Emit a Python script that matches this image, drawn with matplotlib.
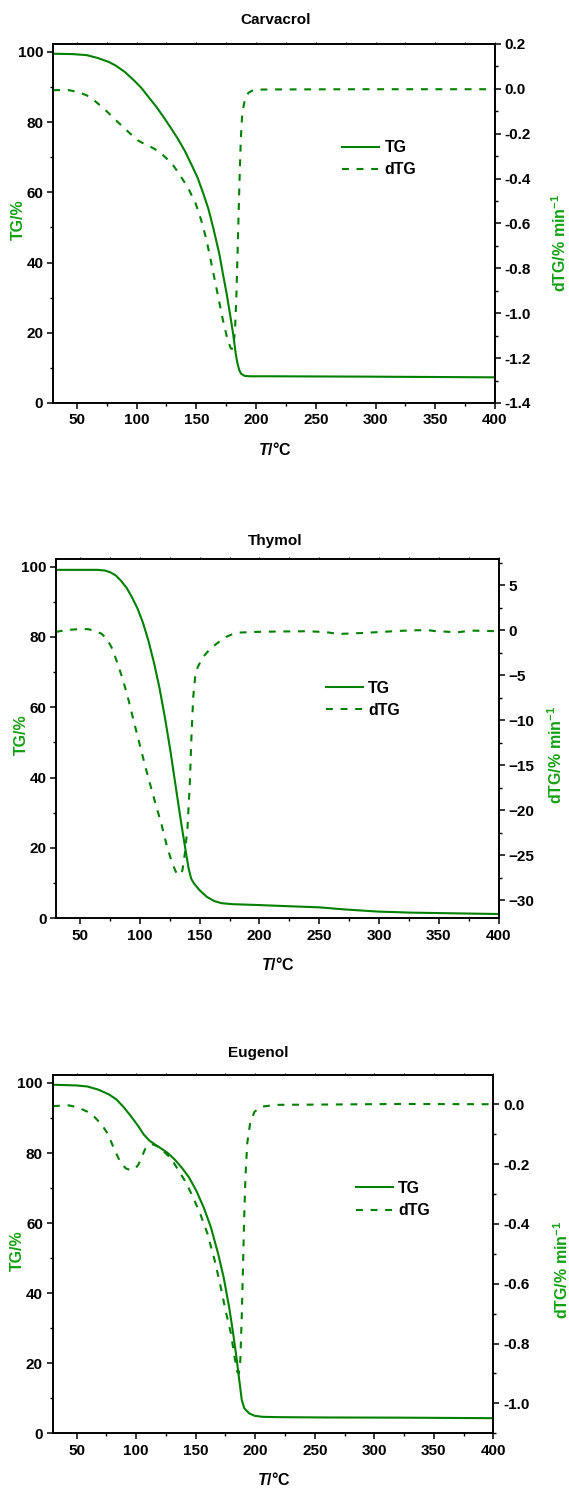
import matplotlib
matplotlib.use("Agg")
import matplotlib.pyplot as plt
from matplotlib.ticker import MultipleLocator, FormatStrFormatter

plt.rcParams['font.family'] = ['Liberation Sans', 'DejaVu Sans']
plt.rcParams['font.weight'] = 'bold'
plt.rcParams['mathtext.fontset'] = 'custom'
plt.rcParams['mathtext.rm'] = 'Liberation Sans:bold'
plt.rcParams['mathtext.it'] = 'Liberation Sans:italic:bold'
plt.rcParams['mathtext.bf'] = 'Liberation Sans:bold'

# Carvacrol
carv_tg_t = [30.2, 46.0, 58.2, 67.3, 76.5, 82.6, 90.2, 97.8, 103.9, 109.9, 116.0, 122.1, 128.2, 134.3, 140.4, 146.5,
             151.0, 155.6, 160.2, 164.7, 169.3, 172.3, 175.4, 178.4, 180.8, 183.0, 184.5, 186.0, 187.5, 190.6, 195.2,
             210, 290, 400]
carv_tg = [99.5, 99.4, 99.1, 98.3, 97.2, 96.1, 94.3, 91.9, 89.8, 87.2, 84.6, 81.7, 78.6, 75.4, 71.8, 67.5,
           64.2, 59.9, 55.2, 49.1, 42.4, 36.7, 31.1, 24.9, 19.7, 14.0, 11.2, 9.3, 8.3, 7.7, 7.6,
           7.6, 7.5, 7.3]
carv_dtg_t = [30.2, 43.0, 50.6, 58.2, 64.3, 70.4, 76.5, 82.6, 88.6, 94.7, 100.8, 106.9, 113.0, 119.1, 125.2, 131.2,
              137.3, 143.4, 149.5, 154.1, 158.6, 163.2, 167.8, 172.3, 176.3, 179.0, 180.8, 182.4, 183.6, 184.8, 186.0,
              187.2, 188.4, 190.6, 193.6, 198.2, 213.4, 289.5, 400]
carv_dtg = [-0.006, -0.006, -0.014, -0.029, -0.051, -0.078, -0.108, -0.140, -0.170, -0.200, -0.229, -0.247, -0.262,
            -0.281, -0.311, -0.345, -0.393, -0.445, -0.512, -0.586, -0.675, -0.794, -0.913, -1.032, -1.121, -1.158,
            -1.158, -1.076, -0.913, -0.675, -0.437, -0.229, -0.111, -0.048, -0.018, -0.004, -0.003, -0.002, -0.002]

# Thymol
thym_tg_t = [29.6, 64.6, 70.7, 75.3, 79.8, 84.4, 89.0, 93.5, 98.1, 102.6, 107.2, 111.8, 116.3, 120.9, 125.5, 130.0,
             134.6, 138.2, 140.7, 142.8, 145.2, 149.8, 155.9, 162.0, 168.1, 177.2, 195.5, 225.9, 250.2, 271.5, 298.9,
             326.3, 362.8, 400]
thym_tg = [99.1, 99.1, 98.9, 98.4, 97.5, 95.9, 93.9, 91.2, 88.0, 84.0, 78.8, 72.6, 65.6, 57.1, 47.6, 37.3,
           26.9, 19.3, 14.2, 11.3, 9.9, 8.0, 6.1, 4.9, 4.3, 4.0, 3.8, 3.4, 3.1, 2.5, 1.9,
           1.6, 1.4, 1.2]
thym_dtg_t = [29.6, 37.2, 43.3, 50.9, 57.0, 63.1, 67.6, 72.2, 76.8, 81.3, 85.9, 90.5, 95.0, 99.6, 104.2, 108.7, 113.3,
              117.9, 122.4, 127.0, 130.6, 133.1, 135.5, 137.6, 139.8, 141.6, 143.1, 144.6, 146.2, 148.3, 152.9, 158.9,
              165.0, 171.1, 177.2, 183.3, 195.5, 210.7, 241.1, 256.3, 265.4, 274.6, 286.7, 302.0, 317.2, 332.4, 341.5,
              347.6, 365.9, 378.0, 400]
thym_dtg = [-0.19, 0.0, 0.07, 0.15, 0.11, -0.11, -0.37, -0.93, -2.04, -3.7, -5.56, -7.78, -10.19, -12.59, -15.0, -17.2,
            -19.4, -21.5, -23.9, -25.9, -27.0, -27.2, -26.7, -24.8, -21.9, -17.4, -11.85, -7.4, -5.2, -4.1, -2.96, -2.04,
            -1.41, -0.81, -0.44, -0.26, -0.19, -0.15, -0.11, -0.22, -0.41, -0.37, -0.3, -0.19, -0.07, 0.0, 0.0,
            -0.11, -0.22, -0.04, -0.11]

# Eugenol
eug_tg_t = [30.2, 50.0, 59.1, 68.3, 77.4, 83.5, 89.6, 95.7, 101.8, 106.4, 111.0, 115.6, 120.1, 126.2, 132.3, 138.4,
            144.5, 150.6, 156.7, 162.8, 168.9, 173.5, 178.1, 181.1, 184.2, 186.6, 188.7, 190.9, 194.8, 199.4, 205.5,
            217.7, 260.4, 321.4, 400]
eug_tg = [99.5, 99.3, 99.0, 98.1, 96.7, 95.3, 93.1, 90.5, 87.7, 85.3, 83.6, 82.5, 81.5, 80.1, 78.2, 75.8,
          73.0, 69.2, 64.5, 58.8, 51.2, 44.5, 36.0, 29.4, 21.8, 15.2, 9.5, 7.1, 5.7, 5.0, 4.7,
          4.6, 4.5, 4.45, 4.3]
eug_dtg_t = [30.2, 43.9, 51.5, 59.1, 65.2, 71.3, 75.9, 79.0, 82.0, 86.6, 91.2, 95.1, 98.8, 101.8, 104.9, 107.9, 111.0,
             114.0, 118.6, 123.2, 129.3, 135.4, 141.5, 147.6, 153.7, 159.8, 165.9, 170.4, 175.0, 179.6, 182.6, 184.8,
             186.3, 187.5, 188.7, 189.7, 190.6, 191.8, 193.3, 195.7, 199.4, 205.5, 217.7, 260.4, 321.4, 400]
eug_dtg = [-0.006, -0.004, -0.011, -0.025, -0.043, -0.069, -0.097, -0.125, -0.153, -0.192, -0.214, -0.220, -0.217,
           -0.203, -0.175, -0.147, -0.136, -0.134, -0.142, -0.158, -0.181, -0.220, -0.259, -0.309, -0.365, -0.431,
           -0.521, -0.599, -0.688, -0.766, -0.844, -0.894, -0.900, -0.855, -0.710, -0.554, -0.398, -0.242, -0.130,
           -0.064, -0.025, -0.008, -0.002, -0.001, 0.001, 0.0]

green = '#008000'
label_green = '#12a012'

panels = [
    # name, tg, dtg, right ylim, right major step, axes rect, title xy, legend anchor, right label coords
    ('Carvacrol', carv_tg_t, carv_tg, carv_dtg_t, carv_dtg, (-1.4, 0.2), 0.2,
     [0.0931, 0.7292, 0.7768, 0.2413], (0.485, 0.9866), (0.655, 0.68), (1.146, 0.446)),
    ('Thymol', thym_tg_t, thym_tg, thym_dtg_t, thym_dtg, (-32, 7.96), 5,
     [0.0989, 0.3829, 0.7772, 0.2417], (0.484, 0.6364), (0.61, 0.609), (1.13, 0.454)),
    ('Eugenol', eug_tg_t, eug_tg, eug_dtg_t, eug_dtg, (-1.1, 0.098), 0.2,
     [0.0926, 0.0368, 0.7747, 0.2408], (0.4534, 0.2923), (0.688, 0.652), (1.154, 0.456)),
]

fig = plt.figure(figsize=(5.69, 14.88), dpi=100)

for name, t1, tg, t2, dtg, ylim2, step2, rect, title_xy, leg_xy, lab2_xy in panels:
    ax = fig.add_axes(rect)
    ax2 = ax.twinx()

    l1, = ax.plot(t1, tg, color=green, lw=1.5, label='TG')
    l2, = ax2.plot(t2, dtg, color=green, lw=1.5, ls=(0, (3.3, 3.7)), label='dTG')

    ax.set_xlim(30, 400)
    ax.set_ylim(0, 102.3)
    ax2.set_ylim(*ylim2)

    ax.xaxis.set_major_locator(MultipleLocator(50))
    ax.xaxis.set_minor_locator(MultipleLocator(25))
    ax.yaxis.set_major_locator(MultipleLocator(20))
    ax.yaxis.set_minor_locator(MultipleLocator(10))
    ax2.yaxis.set_major_locator(MultipleLocator(step2))
    ax2.yaxis.set_minor_locator(MultipleLocator(step2 / 2))
    if step2 < 1:
        ax2.yaxis.set_major_formatter(FormatStrFormatter('%.1f'))

    for a in (ax, ax2):
        for s in a.spines.values():
            s.set_linewidth(1.2)
        a.tick_params(which='major', direction='out', length=4.5, width=1.1, labelsize=11, pad=2.5)
        a.tick_params(which='minor', direction='out', length=2.5, width=1.0)
    ax.tick_params(axis='x', which='major', pad=3)
    ax.tick_params(axis='x', which='both', top=True)
    # very short ticks on the top spine
    for tk in ax.xaxis.get_major_ticks() + ax.xaxis.get_minor_ticks():
        tk.tick2line.set_markersize(1.2)
        tk.tick2line.set_markeredgewidth(0.7)

    ax.set_xlabel(r'$\mathit{T}$/°C', fontsize=11.5, fontweight='bold')
    ax.xaxis.set_label_coords(0.502, -0.13)
    ax.xaxis.label.set_va('center')

    ax.set_ylabel('TG/%', fontsize=11.5, fontweight='bold', color=label_green)
    ax.yaxis.set_label_coords(-0.079, 0.51)
    ax.yaxis.label.set_va('center')

    ax2.set_ylabel(r'dTG/% min$^{-1}$', fontsize=11.5, fontweight='bold', color=label_green)
    ax2.yaxis.set_label_coords(*lab2_xy)
    ax2.yaxis.label.set_va('center')

    fig.text(title_xy[0], title_xy[1], name, fontsize=11, fontweight='bold', ha='center', va='center')

    ax.legend([l1, l2], ['TG', 'dTG'], loc='center left', bbox_to_anchor=leg_xy, frameon=False,
              fontsize=11.5, handlelength=2.3, handletextpad=0.35, labelspacing=0.45,
              borderpad=0, borderaxespad=0)

fig.savefig('out.png', dpi=100)
